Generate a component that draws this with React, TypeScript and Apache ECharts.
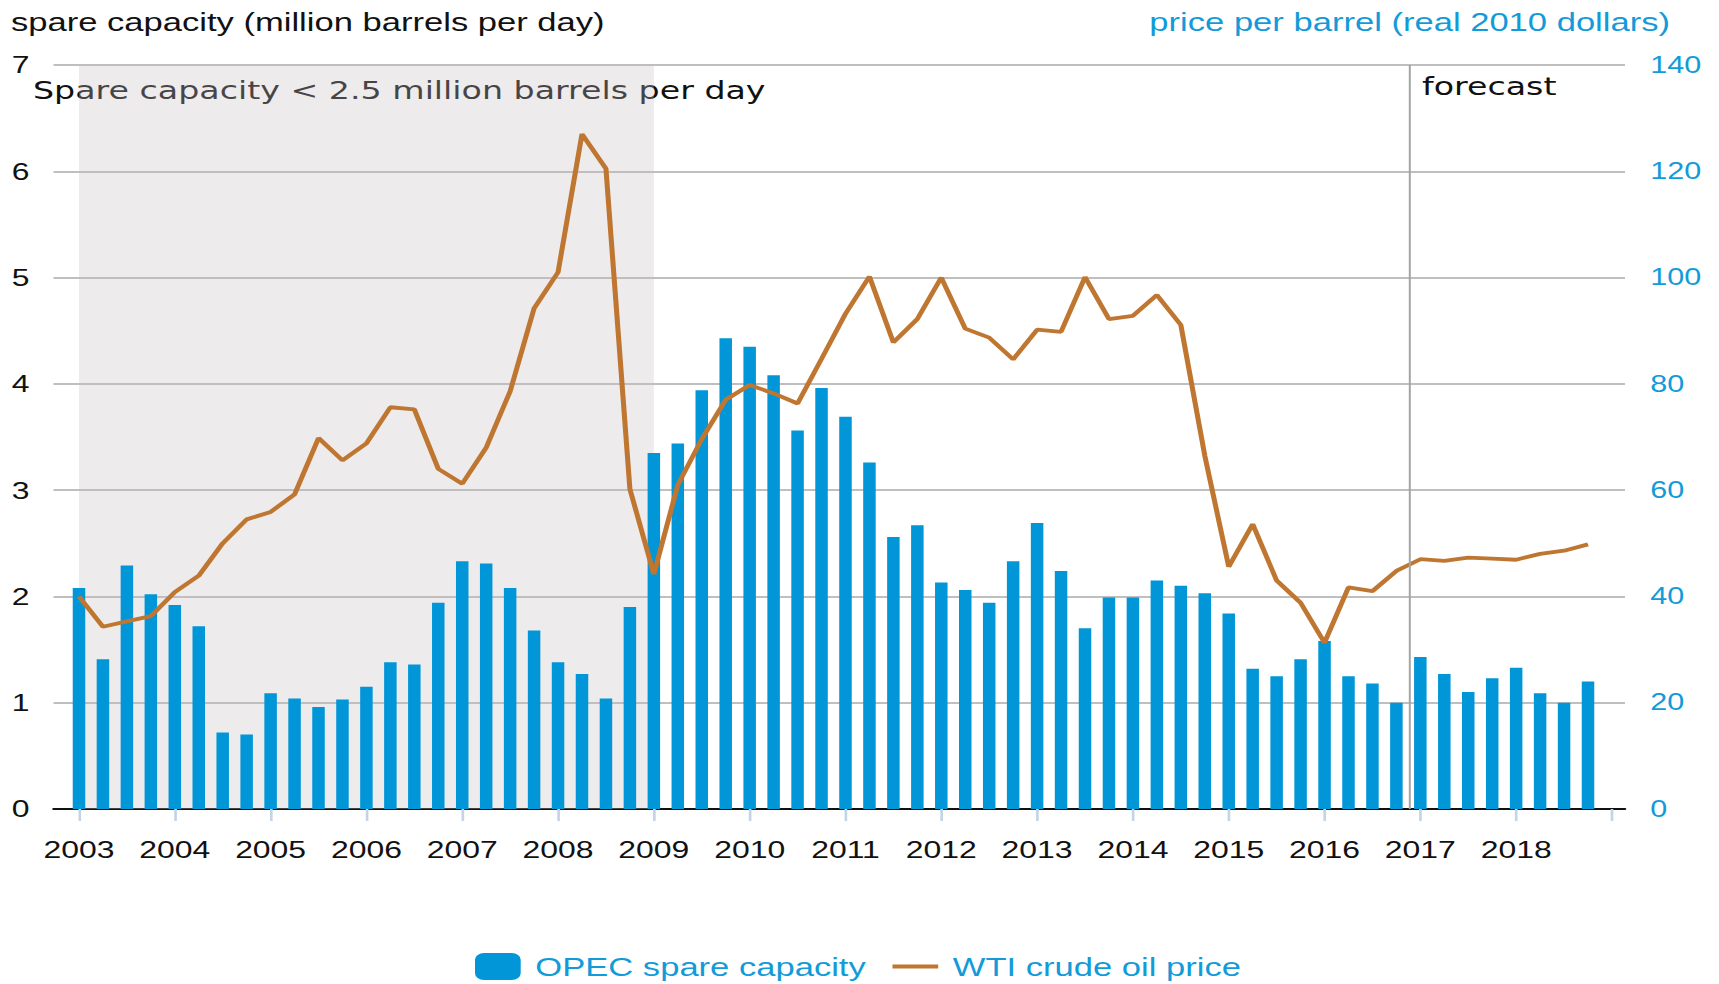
import React, { useEffect, useRef } from 'react';
import * as echarts from 'echarts';

// ---- data ----
const years = [2003, 2004, 2005, 2006, 2007, 2008, 2009, 2010, 2011, 2012, 2013, 2014, 2015, 2016, 2017, 2018];
const quarterOffsets = [0, 0.25, 0.5, 0.75];
const tickYears = [2003, 2004, 2005, 2006, 2007, 2008, 2009, 2010, 2011, 2012, 2013, 2014, 2015, 2016, 2017, 2018, 2019];

// OPEC spare capacity, million barrels per day (quarterly, 2003Q1..2018Q4)
const spareCapacity = [
  2.08, 1.41, 2.29, 2.02,
  1.92, 1.72, 0.72, 0.70,
  1.09, 1.04, 0.96, 1.03,
  1.15, 1.38, 1.36, 1.94,
  2.33, 2.31, 2.08, 1.68,
  1.38, 1.27, 1.04, 1.90,
  3.35, 3.44, 3.94, 4.43,
  4.35, 4.08, 3.56, 3.96,
  3.69, 3.26, 2.56, 2.67,
  2.13, 2.06, 1.94, 2.33,
  2.69, 2.24, 1.70, 1.99,
  1.99, 2.15, 2.10, 2.03,
  1.84, 1.32, 1.25, 1.41,
  1.58, 1.25, 1.18, 1.00,
  1.43, 1.27, 1.10, 1.23,
  1.33, 1.09, 1.00, 1.20,
];

// WTI crude oil price, real 2010 dollars per barrel
const wtiPrice = [
  40.0, 34.3, 35.3, 36.3,
  40.8, 43.9, 50.0, 54.5,
  55.9, 59.2, 69.8, 65.6,
  68.8, 75.6, 75.2, 64.0,
  61.2, 68.0, 78.6, 94.2,
  101.0, 127.0, 120.5, 60.2,
  44.2, 61.0, 69.6, 77.0,
  79.8, 78.2, 76.3, 84.7,
  93.2, 100.2, 87.8, 92.2,
  100.0, 90.4, 88.7, 84.6,
  90.2, 89.8, 100.1, 92.2,
  92.8, 96.7, 91.1, 66.5,
  45.6, 53.6, 43.0, 38.8,
  31.3, 41.7, 41.0, 44.8,
  47.0, 46.7, 47.3, 47.1,
  46.9, 48.0, 48.6, 49.8,
];

const shadeStart = 2003;
const shadeEnd = 2009;
const forecastStart = 2016.875;

// ---- layout ----
const S = 1.33; // horizontal stretch of the whole picture
const W = 1293;
const H = 984;
const px = (full: number) => full / S;

const BLUE = '#0096d7';
const BLUE_TEXT = '#129bd8';
const BROWN = '#bf7631';

export default function App() {
  const ref = useRef<HTMLDivElement>(null);

  useEffect(() => {
    if (!ref.current) return;
    const chart = echarts.init(ref.current, null, { renderer: 'svg' });
    const xs = years.flatMap((y) => quarterOffsets.map((q) => y + q));
    const barData = xs.map((x, i) => [x, spareCapacity[i]]);
    const lineData = xs.map((x, i) => [x, wtiPrice[i]]);

    chart.setOption({
      animation: false,
      grid: {
        left: px(53.5),
        right: W - px(1625),
        top: 65,
        bottom: H - 809,
        containLabel: false,
      },
      legend: {
        left: px(475),
        top: 953,
        padding: 0,
        itemWidth: px(45.7),
        itemHeight: 27,
        itemGap: 20,
        data: [
          { name: 'OPEC spare capacity', icon: 'roundRect' },
          { name: 'WTI crude oil price', icon: 'path://M0 0H86V10H0Z' },
        ],
        textStyle: {
          fontFamily: 'Liberation Sans',
          fontSize: 26,
          color: BLUE_TEXT,
          padding: [0, 0, 0, 6],
        },
      },
      xAxis: {
        type: 'value',
        min: 2002.734,
        max: 2019.136,
        splitLine: { show: false },
        axisLine: { show: true, onZero: true, lineStyle: { color: '#111', width: 2 } },
        axisTick: {
          show: true,
          customValues: tickYears,
          length: 12,
          lineStyle: { color: '#c5d3e4', width: 2 },
        },
        axisLabel: {
          customValues: years,
          formatter: (v: number) => String(v),
          fontFamily: 'Liberation Sans',
          fontSize: 24,
          color: '#111',
          margin: 28,
        },
      },
      yAxis: [
        {
          type: 'value',
          min: 0,
          max: 7,
          interval: 1,
          position: 'left',
          axisLine: { show: false },
          axisTick: { show: false },
          axisLabel: { fontFamily: 'Liberation Sans', fontSize: 24, color: '#111', margin: 18 },
          splitLine: { show: true, lineStyle: { color: '#bfbfbf', width: 2 } },
        },
        {
          type: 'value',
          min: 0,
          max: 140,
          interval: 20,
          position: 'right',
          axisLine: { show: false },
          axisTick: { show: false },
          axisLabel: { fontFamily: 'Liberation Sans', fontSize: 23, color: BLUE_TEXT, margin: 19 },
          splitLine: { show: false },
        },
      ],
      series: [
        {
          type: 'bar',
          name: 'OPEC spare capacity',
          data: barData,
          barWidth: px(12.5),
          itemStyle: { color: BLUE },
          markArea: {
            silent: true,
            itemStyle: { color: 'rgba(200,190,195,0.3)' },
            label: { show: false },
            data: [[{ xAxis: shadeStart }, { xAxis: shadeEnd }]],
          },
        },
        {
          type: 'line',
          name: 'WTI crude oil price',
          yAxisIndex: 1,
          data: lineData,
          symbol: 'none',
          showSymbol: false,
          lineStyle: { color: BROWN, width: 3.8 },
          itemStyle: { color: BROWN },
          markLine: {
            silent: true,
            symbol: 'none',
            label: { show: false },
            lineStyle: { color: '#a5a5a5', width: 1.5, type: 'solid' },
            data: [{ xAxis: forecastStart }],
          },
        },
      ],
      graphic: [
        {
          type: 'text',
          x: px(11),
          y: 22,
          style: {
            text: 'spare capacity (million barrels per day)',
            fontFamily: 'Liberation Sans',
            fontSize: 26,
            fill: '#111',
            textVerticalAlign: 'middle',
          },
        },
        {
          type: 'text',
          x: px(1670),
          y: 22,
          style: {
            text: 'price per barrel (real 2010 dollars)',
            fontFamily: 'Liberation Sans',
            fontSize: 26,
            fill: BLUE_TEXT,
            textAlign: 'right',
            textVerticalAlign: 'middle',
          },
        },
        {
          type: 'text',
          x: px(33),
          y: 91,
          style: {
            text: 'Spare capacity < 2.5 million barrels per day',
            fontFamily: 'DejaVu Sans',
            fontSize: 25,
            fill: '#111',
            textVerticalAlign: 'middle',
          },
        },
        {
          type: 'text',
          x: px(1422),
          y: 87,
          style: {
            text: 'forecast',
            fontFamily: 'DejaVu Sans',
            fontSize: 25,
            fill: '#111',
            textVerticalAlign: 'middle',
          },
        },
      ],
    });

    return () => chart.dispose();
  }, []);

  return (
    <div
      ref={ref}
      style={{
        position: 'absolute',
        left: 0,
        top: 0,
        width: W,
        height: H,
        transform: `scaleX(${S})`,
        transformOrigin: '0 0',
      }}
    />
  );
}
